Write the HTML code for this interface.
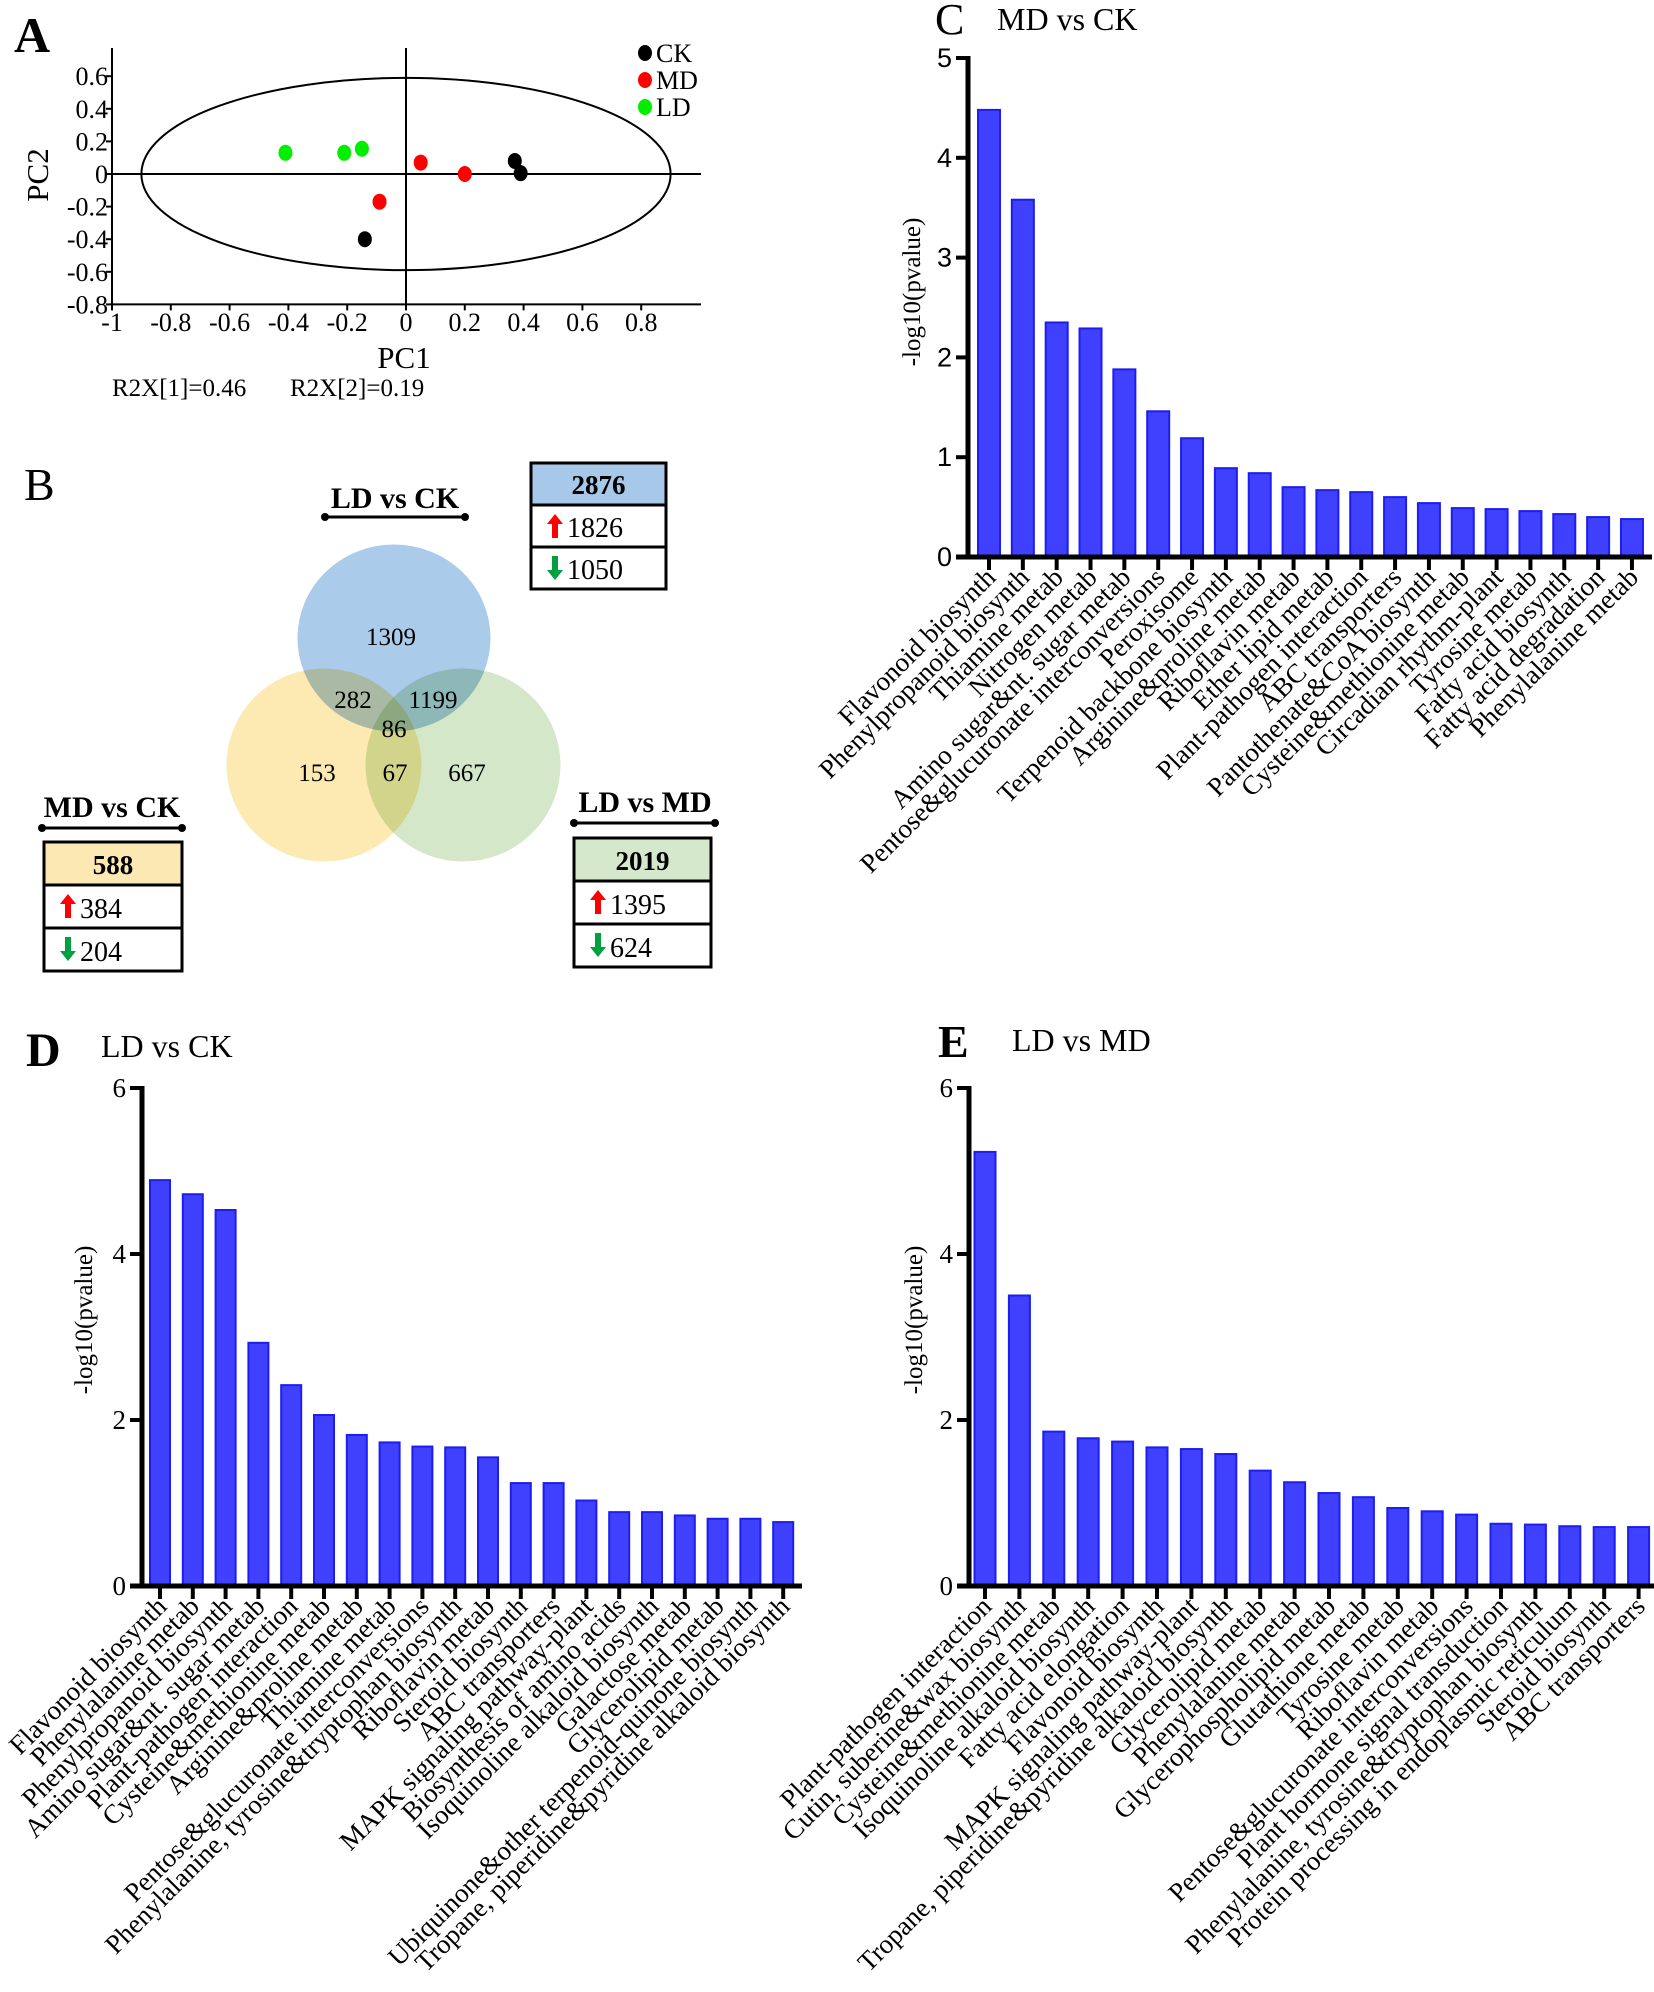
<!DOCTYPE html>
<html><head><meta charset="utf-8"><style>
html,body{margin:0;padding:0;background:#fff}
svg{display:block}
text{font-family:"Liberation Serif",serif;fill:#000}
.sans{font-family:"Liberation Sans",sans-serif}
</style></head><body>
<svg id="fig" width="1654" height="1992" viewBox="0 0 1654 1992" xmlns="http://www.w3.org/2000/svg">
<g id="panelA">
<text x="14" y="52" font-size="50" font-weight="bold">A</text>
</g>
<g id="panelB">
<text x="24" y="500" font-size="46">B</text>
<g style="isolation:isolate">
<ellipse cx="394" cy="638" rx="98" ry="95" fill="#abcbea" stroke="#fff" stroke-width="3"/>
<ellipse cx="324" cy="765" rx="99" ry="98" fill="#fde9b2" stroke="#fff" stroke-width="3" style="mix-blend-mode:multiply"/>
<ellipse cx="463" cy="765" rx="99" ry="98" fill="#d4e8c9" stroke="#fff" stroke-width="3" style="mix-blend-mode:multiply"/>
</g>
<g font-size="25" text-anchor="middle">
<text x="391" y="645">1309</text>
<text x="353" y="708">282</text>
<text x="433" y="708">1199</text>
<text x="394" y="737">86</text>
<text x="317" y="781">153</text>
<text x="395" y="781">67</text>
<text x="467" y="781">667</text>
</g>
</g>
<g id="panelC"></g>
<g id="panelD"></g>
<g id="panelE"></g>
</svg>
<script>
// ---------- PCA data ----------
const pcaGroups = ["CK", "MD", "LD"];
const pcaColors = ["#000000", "#ff0000", "#00ee00"];
const pcaPC1 = [0.37, 0.39, -0.14, 0.05, 0.20, -0.09, -0.41, -0.21, -0.15];
const pcaPC2 = [0.08, 0.005, -0.40, 0.07, 0.0, -0.17, 0.13, 0.13, 0.155];
const pcaGroupOf = [0, 0, 0, 1, 1, 1, 2, 2, 2];
const pcaXTicks = [-1, -0.8, -0.6, -0.4, -0.2, 0, 0.2, 0.4, 0.6, 0.8];
const pcaYTicks = [0.6, 0.4, 0.2, 0, -0.2, -0.4, -0.6, -0.8];

// ---------- Bar chart data ----------
const cCats = ["Flavonoid biosynth","Phenylpropanoid biosynth","Thiamine metab","Nitrogen metab","Amino sugar&nt. sugar metab","Pentose&glucuronate interconversions","Peroxisome","Terpenoid backbone biosynth","Arginine&proline metab","Riboflavin metab","Ether lipid metab","Plant-pathogen interaction","ABC transporters","Pantothenate&CoA biosynth","Cysteine&methionine metab","Circadian rhythm-plant","Tyrosine metab","Fatty acid biosynth","Fatty acid degradation","Phenylalanine metab"];
const cVals = [4.48,3.58,2.35,2.29,1.88,1.46,1.19,0.89,0.84,0.70,0.67,0.65,0.60,0.54,0.49,0.48,0.46,0.43,0.40,0.38];
const cTicks = [0,1,2,3,4,5];

const dCats = ["Flavonoid biosynth","Phenylalanine metab","Phenylpropanoid biosynth","Amino sugar&nt. sugar metab","Plant-pathogen interaction","Cysteine&methionine metab","Arginine&proline metab","Thiamine metab","Pentose&glucuronate interconversions","Phenylalanine, tyrosine&tryptophan biosynth","Riboflavin metab","Steroid biosynth","ABC transporters","MAPK signaling pathway-plant","Biosynthesis of amino acids","Isoquinoline alkaloid biosynth","Galactose metab","Glycerolipid metab","Ubiquinone&other terpenoid-quinone biosynth","Tropane, piperidine&pyridine alkaloid biosynth"];
const dVals = [4.89,4.72,4.53,2.93,2.42,2.06,1.82,1.73,1.68,1.67,1.55,1.24,1.24,1.03,0.89,0.89,0.85,0.81,0.81,0.77];
const dTicks = [0,2,4,6];

const eCats = ["Plant-pathogen interaction","Cutin, suberine&wax biosynth","Cysteine&methionine metab","Isoquinoline alkaloid biosynth","Fatty acid elongation","Flavonoid biosynth","MAPK signaling pathway-plant","Tropane, piperidine&pyridine alkaloid biosynth","Glycerolipid metab","Phenylalanine metab","Glycerophospholipid metab","Glutathione metab","Tyrosine metab","Riboflavin metab","Pentose&glucuronate interconversions","Plant hormone signal transduction","Phenylalanine, tyrosine&tryptophan biosynth","Protein processing in endoplasmic reticulum","Steroid biosynth","ABC transporters"];
const eVals = [5.23,3.50,1.86,1.78,1.74,1.67,1.65,1.59,1.39,1.25,1.12,1.07,0.94,0.90,0.86,0.75,0.74,0.72,0.71,0.71];
const eTicks = [0,2,4,6];

// ---------- Venn box data ----------
const boxTotals = ["2876", "588", "2019"];
const boxUp = ["1826", "384", "1395"];
const boxDown = ["1050", "204", "624"];

const NS = "http://www.w3.org/2000/svg";
function mk(parent, tag, attrs, txt) {
  const el = document.createElementNS(NS, tag);
  for (const k in attrs) el.setAttribute(k, attrs[k]);
  if (txt !== undefined) el.textContent = txt;
  parent.appendChild(el);
  return el;
}

// ---------- Panel A ----------
(function () {
  const g = document.getElementById("panelA");
  const x0 = 406, ux = 294, y0 = 174, uy = 163;
  const sx = v => x0 + v * ux;
  const sy = v => y0 - v * uy;
  let el;
  el = mk(g, "ellipse", {cx: sx(0), cy: sy(0), rx: 0.9 * ux, ry: 0.59 * uy, fill: "none", stroke: "#000", "stroke-width": 2});
  
  
  el = mk(g, "line", {x1: sx(-1), y1: sy(-0.8), x2: 701, y2: sy(-0.8), stroke: "#000", "stroke-width": 2});
  
  
  el = mk(g, "line", {x1: sx(-1), y1: 48, x2: sx(-1), y2: sy(-0.8), stroke: "#000", "stroke-width": 2});
  
  
  el = mk(g, "line", {x1: sx(-1), y1: sy(0), x2: 701, y2: sy(0), stroke: "#000", "stroke-width": 2});
  
  
  el = mk(g, "line", {x1: sx(0), y1: 48, x2: sx(0), y2: sy(-0.8), stroke: "#000", "stroke-width": 2});
  
  
  pcaXTicks.forEach(t => {
    el = mk(g, "line", {x1: sx(t), y1: sy(-0.8), x2: sx(t), y2: sy(-0.8) + 6, stroke: "#000", "stroke-width": 2});
    
    
    el = mk(g, "text", {x: sx(t), y: 331, "font-size": 26, "text-anchor": "middle"}, String(t));
    
    
  });
  pcaYTicks.forEach(t => {
    el = mk(g, "line", {x1: sx(-1) - 6, y1: sy(t), x2: sx(-1), y2: sy(t), stroke: "#000", "stroke-width": 2});
    
    
    el = mk(g, "text", {x: 108, y: sy(t) + 9, "font-size": 26, "text-anchor": "end"}, String(t));
    
    
  });
  pcaPC1.forEach((v, i) => {
    el = mk(g, "ellipse", {cx: sx(v), cy: sy(pcaPC2[i]), rx: 7, ry: 8, fill: pcaColors[pcaGroupOf[i]]});
    
    
  });
  pcaGroups.forEach((n, i) => {
    const y = 53 + i * 27;
    el = mk(g, "ellipse", {cx: 645, cy: y, rx: 7, ry: 8, fill: pcaColors[i]});
    
    
    el = mk(g, "text", {x: 656, y: y + 9, "font-size": 26}, n);
    
    
  });
  el = mk(g, "text", {x: 404, y: 368, "font-size": 31, "text-anchor": "middle"}, "PC1");
  
  
  el = mk(g, "text", {x: 0, y: 0, "font-size": 31, "text-anchor": "middle", transform: "translate(48,175) rotate(-90)"}, "PC2");
  
  
  el = mk(g, "text", {x: 112, y: 396, "font-size": 25}, "R2X[1]=0.46");
  
  
  el = mk(g, "text", {x: 290, y: 396, "font-size": 25}, "R2X[2]=0.19");
  
  
})();

// ---------- Panel B boxes ----------
(function () {
  const g = document.getElementById("panelB");
  const titles = ["LD vs CK", "MD vs CK", "LD vs MD"];
  const titlePos = [[395, 508, 325, 465, 517], [112, 817, 42, 182, 828], [645, 812, 574, 715, 823]];
  const boxes = [[531, 463, 135, 42], [44, 842, 138, 43], [574, 838, 137, 43]];
  const fills = ["#a8c8ea", "#fce8b2", "#d5e8cc"];
  let el;
  titles.forEach((t, i) => {
    const p = titlePos[i];
    el = mk(g, "text", {x: p[0], y: p[1], "font-size": 30, "font-weight": "bold", "text-anchor": "middle"}, t);
    
    
    el = mk(g, "line", {x1: p[2], y1: p[4], x2: p[3], y2: p[4], stroke: "#000", "stroke-width": 3});
    
    
    mk(g, "circle", {cx: p[2], cy: p[4], r: 4, fill: "#000"});
    mk(g, "circle", {cx: p[3], cy: p[4], r: 4, fill: "#000"});
  });
  boxes.forEach((b, i) => {
    const [x, y, w, h] = b;
    el = mk(g, "rect", {x: x, y: y, width: w, height: h, fill: fills[i], stroke: "#000", "stroke-width": 3});
    
    
    el = mk(g, "rect", {x: x, y: y + h, width: w, height: h, fill: "#fff", stroke: "#000", "stroke-width": 3});
    
    
    el = mk(g, "rect", {x: x, y: y + 2 * h, width: w, height: h, fill: "#fff", stroke: "#000", "stroke-width": 3});
    
    
    el = mk(g, "text", {x: x + w / 2, y: y + h - 11, "font-size": 27, "font-weight": "bold", "text-anchor": "middle"}, boxTotals[i]);
    
    
    const ax = x + 24;
    const uy = y + h + 9;
    el = mk(g, "polygon", {points: `${ax},${uy} ${ax+8},${uy+10} ${ax+3},${uy+10} ${ax+3},${uy+24} ${ax-3},${uy+24} ${ax-3},${uy+10} ${ax-8},${uy+10}`, fill: "#f00"});
    
    
    el = mk(g, "text", {x: ax + 12, y: y + 2 * h - 10, "font-size": 28}, boxUp[i]);
    
    
    const dy = y + 2 * h + 9;
    el = mk(g, "polygon", {points: `${ax-3},${dy} ${ax+3},${dy} ${ax+3},${dy+14} ${ax+8},${dy+14} ${ax},${dy+24} ${ax-8},${dy+14} ${ax-3},${dy+14}`, fill: "#00a040"});
    
    
    el = mk(g, "text", {x: ax + 12, y: y + 3 * h - 10, "font-size": 28}, boxDown[i]);
    
    
  });
})();

// ---------- Bar charts ----------
function barChart(g, cfg, cats, vals, ticks) {
  const sy = v => cfg.y0 - v * cfg.uy;
  const sx = i => cfg.x0 + i * cfg.pitch;
  let el;
  el = mk(g, "text", {x: cfg.lx, y: cfg.ly, "font-size": cfg.lsize, "font-weight": cfg.lweight}, cfg.letter);
  
  
  el = mk(g, "text", {x: cfg.tx, y: cfg.ty, "font-size": 32}, cfg.title);
  
  
  vals.forEach((v, i) => {
    el = mk(g, "rect", {x: sx(i) - cfg.bw / 2, y: sy(v), width: cfg.bw, height: cfg.y0 - sy(v), fill: "#4040ff", stroke: "#1d1df0", "stroke-width": 2});
    
    
  });
  const top = sy(ticks[ticks.length - 1]);
  el = mk(g, "line", {x1: cfg.ax, y1: top - 2, x2: cfg.ax, y2: cfg.y0 + 2, stroke: "#000", "stroke-width": 5});
  
  
  el = mk(g, "line", {x1: cfg.ax - 12, y1: cfg.y0, x2: cfg.xend, y2: cfg.y0, stroke: "#000", "stroke-width": 5});
  
  
  ticks.forEach(t => {
    el = mk(g, "line", {x1: cfg.ax - 12, y1: sy(t), x2: cfg.ax, y2: sy(t), stroke: "#000", "stroke-width": 4});
    
    
    el = mk(g, "text", {x: cfg.ax - 16, y: sy(t) + 9, "font-size": 27, "text-anchor": "end", class: cfg.tickClass}, String(t));
    
    
  });
  cats.forEach((c, i) => {
    el = mk(g, "line", {x1: sx(i), y1: cfg.y0, x2: sx(i), y2: cfg.y0 + 13, stroke: "#000", "stroke-width": 4});
    
    
    const lx = sx(i) + 8, ly = cfg.y0 + 22;
    el = mk(g, "text", {x: 0, y: 0, "font-size": 27, fill: "#222", "text-anchor": "end", transform: `translate(${lx},${ly}) rotate(-45)`}, c);
    
    
  });
  el = mk(g, "text", {x: 0, y: 0, "font-size": 25, "text-anchor": "middle", transform: `translate(${cfg.ylx},${cfg.yly}) rotate(-90)`}, "-log10(pvalue)");
  
  
}

barChart(document.getElementById("panelC"),
  {x0: 989, pitch: 33.84, bw: 22, y0: 557, uy: 99.8, ax: 968, xend: 1652, letter: "C", lx: 935, ly: 34, lsize: 44, lweight: "normal", title: "MD vs CK", tx: 997, ty: 30, ylx: 920, yly: 292, tickClass: "sans"},
  cCats, cVals, cTicks);
barChart(document.getElementById("panelD"),
  {x0: 160, pitch: 32.8, bw: 20, y0: 1586, uy: 83, ax: 142, xend: 802, letter: "D", lx: 26, ly: 1066, lsize: 48, lweight: "bold", title: "LD vs CK", tx: 101, ty: 1057, ylx: 92, yly: 1320, tickClass: ""},
  dCats, dVals, dTicks);
barChart(document.getElementById("panelE"),
  {x0: 985, pitch: 34.4, bw: 21, y0: 1586, uy: 83, ax: 969, xend: 1654, letter: "E", lx: 938, ly: 1057, lsize: 46, lweight: "bold", title: "LD vs MD", tx: 1012, ty: 1051, ylx: 922, yly: 1320, tickClass: ""},
  eCats, eVals, eTicks);
</script>
</body></html>
